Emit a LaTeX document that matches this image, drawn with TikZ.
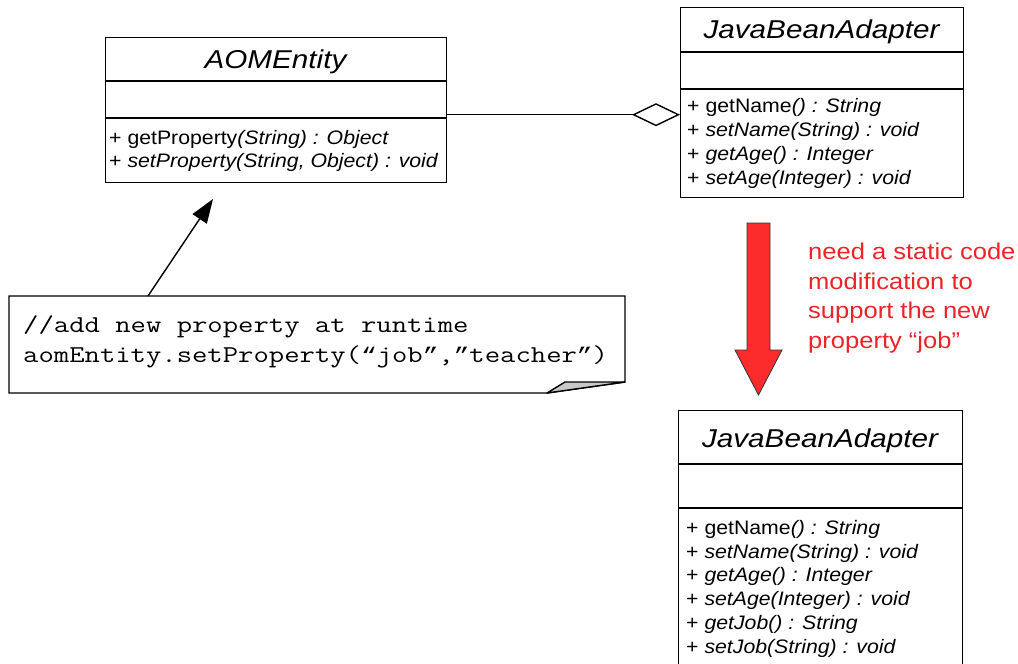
\documentclass[tikz,border=0pt]{standalone}
\usepackage{fontspec}
\usetikzlibrary{arrows.meta}
\newfontfamily\umlfont[FakeStretch=1.09]{Liberation Sans}
\newfontfamily\umltitlefont[FakeStretch=1.15]{Liberation Sans}
\newfontfamily\remarkfont[FakeStretch=1.12]{Liberation Sans}
\newfontfamily\quotefont{Liberation Mono}
% curly quote set at the advance width of the typewriter font
\newcommand{\cq}[1]{{\quotefont\fontsize{21.2}{30}\selectfont #1}}
\definecolor{alertred}{RGB}{236,36,42}
\definecolor{arrowred}{RGB}{252,44,44}
\definecolor{foldgray}{RGB}{200,200,200}

\begin{document}
\begin{tikzpicture}[x=1pt,y=-1pt,
  classbox/.style={draw, line width=1.4pt, fill=white, anchor=north west, inner sep=0pt},
  divider/.style={line width=1.4pt},
  classname/.style={anchor=base, inner sep=0pt, font=\umltitlefont\fontsize{25.8}{30}\selectfont\itshape},
  member/.style={anchor=base west, inner sep=0pt, font=\umlfont\fontsize{19.5}{23.8}\selectfont},
  codeline/.style={anchor=base west, inner sep=0pt, xscale=1.232, font=\ttfamily\fontsize{24.2}{30}\selectfont},
  remark/.style={anchor=base west, inner sep=0pt, text=alertred, font=\remarkfont\fontsize{22.8}{29.5}\selectfont},
  link/.style={line width=1.4pt},
]
\useasboundingbox[fill=white] (0,0) rectangle (1018,664);

% abstract entity class
\node[classbox, minimum width=341pt, minimum height=145pt] (aom) at (105,37) {};
\draw[divider] (105,81) -- (446,81);
\draw[divider] (105,118) -- (446,118);
\node[classname] (aomname) at (275.5,68) {AOMEntity};
\node[member] (aomget) at (109,144) {+ getProperty\textit{(String) : Object}};
\node[member] (aomset) at (109,167) {+ \textit{setProperty(String, Object) : void}};

% adapter before the change
\node[classbox, minimum width=283pt, minimum height=190pt] (jba1) at (680,7) {};
\draw[divider] (680,52) -- (963,52);
\draw[divider] (680,89) -- (963,89);
\node[classname] (jba1name) at (821.5,38) {JavaBeanAdapter};
\node[member] (jba1a) at (687,112) {+ getName\textit{() : String}};
\node[member] (jba1b) at (687,136) {+ \textit{setName(String) : void}};
\node[member] (jba1c) at (687,160) {+ \textit{getAge() : Integer}};
\node[member] (jba1d) at (687,184) {+ \textit{setAge(Integer) : void}};

% adapter after the change (runs off the page bottom)
\node[classbox, minimum width=284pt, minimum height=275pt] (jba2) at (678,410) {};
\draw[divider] (678,464) -- (962,464);
\draw[divider] (678,508) -- (962,508);
\node[classname] (jba2name) at (820,447) {JavaBeanAdapter};
\node[member] (jba2a) at (686,534) {+ getName\textit{() : String}};
\node[member] (jba2b) at (686,558) {+ \textit{setName(String) : void}};
\node[member] (jba2c) at (686,581) {+ \textit{getAge() : Integer}};
\node[member] (jba2d) at (686,605) {+ \textit{setAge(Integer) : void}};
\node[member] (jba2e) at (686,629) {+ \textit{getJob() : String}};
\node[member] (jba2f) at (686,653) {+ \textit{setJob(String) : void}};

% aggregation
\coordinate (aomport) at ([yshift=-4.5pt]aom.east);
\draw[link, -{Diamond[open, length=48pt, width=23pt]}] (aomport) -- (aomport -| jba1.west);

% note with folded corner
\node[inner sep=0pt, minimum width=616pt, minimum height=97pt, anchor=north west] (note) at (9,296) {};
\draw[link, fill=white] (9,296) -- (625,296) -- (625,382) -- (547,393) -- (9,393) -- cycle;
\draw[link, fill=foldgray, line join=round] (547,393) -- (565,382) -- (625,382) -- cycle;
\node[codeline] (code1) at (23,332) {//add new property at runtime};
\node[codeline] (code2) at (23,362) {aomEntity.setProperty(\cq{“}job\cq{”},\cq{”}teacher\cq{”})};

\coordinate (notehook) at ([xshift=139pt]note.north west);
\coordinate (aomtip) at (213,199);
\draw[link, -{Triangle[length=24pt, width=17pt]}] (notehook) -- (aomtip);

% big change arrow
\draw[fill=arrowred, draw=black!80, line width=0.8pt, line join=miter]
  (747,223) -- (770,223) -- (770,350) -- (782,350) -- (758.5,395)
  -- (735,350) -- (747,350) -- cycle;
\node[remark] (why1) at (808,259) {need a static code};
\node[remark] (why2) at (808,289) {modification to};
\node[remark] (why3) at (808,318) {support the new};
\node[remark] (why4) at (808,348) {property “job”};
\end{tikzpicture}
\end{document}
